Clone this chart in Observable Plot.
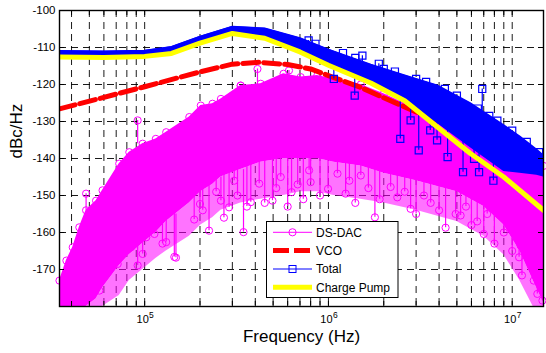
<!DOCTYPE html>
<html><head><meta charset="utf-8">
<script src="https://cdn.jsdelivr.net/npm/d3@7"></script>
<script src="https://cdn.jsdelivr.net/npm/@observablehq/plot@0.6"></script>
<style>body{margin:0;background:#fff}svg{display:block}</style>
</head><body><div id="chart"></div>
<script>
const FONT = "Liberation Sans, Arial, Helvetica, sans-serif";

// ---- axes ----
const xDomain = [3.44e4, 1.48e7];
const yDomain = [-180, -100];
const xMajor = [1e5, 1e6, 1e7];
const xGrid = [4e4,5e4,6e4,7e4,8e4,9e4,1e5,2e5,3e5,4e5,5e5,6e5,7e5,8e5,9e5,1e6,2e6,3e6,4e6,5e6,6e6,7e6,8e6,9e6,1e7];
const yGrid = [-170,-160,-150,-140,-130,-120,-110];
const yLabels = [-170,-160,-150,-140,-130,-120,-110,-100];

// ---- Charge Pump ----
const cpFreq = [3.44e4,6e4,1e5,1.4e5,2e5,3e5,4.5e5,7e5,1e6,1.7e6,2.6e6,3.9e6,5.9e6,9e6,1.48e7];
const cpDb   = [-112.6,-112.7,-112.4,-111.6,-108.8,-106.2,-107.5,-111.2,-114.8,-119.6,-124.4,-131.4,-138.6,-145.0,-154.0];

// ---- VCO ----
const vcoFreq = [3.44e4,1e5,2e5,3e5,4.2e5,6e5,8e5,1e6,1.5e6,2e6,3e6,5e6,1e7,1.48e7];
const vcoDb   = [-126.6,-120.6,-116.6,-114.5,-114.0,-114.6,-115.8,-117.6,-120.8,-123.6,-127.4,-131.8,-137.8,-141.2];

// ---- Total (upper / lower edge of the dense band) ----
const totFreq = [3.44e4,6e4,1e5,1.4e5,2e5,3e5,4.5e5,7e5,1e6,1.7e6,2.6e6,3.9e6,5.9e6,9e6,1.1e7,1.36e7,1.48e7];
const totHi   = [-110.9,-111.0,-110.8,-109.8,-107.0,-104.3,-104.8,-107.4,-110.5,-114.6,-117.5,-120.2,-125.0,-131.0,-134.0,-137.6,-139.2];
const totLo   = [-112.6,-112.7,-112.4,-111.6,-108.8,-106.2,-107.5,-111.2,-114.8,-119.6,-124.4,-130.5,-137.0,-143.5,-144.0,-144.5,-145.0];
const totEdgeFreq = [8.5e5,1.2e6,1.4e6,2e6,2.3e6,3e6,3.4e6,4.3e6,5e6,6.5e6,7.5e6,8.3e6,1e7,1.2e7,1.4e7];
const totEdgeDb   = [-109,-111.5,-112.8,-115.8,-116.5,-118.5,-119.3,-121.2,-123,-126.5,-128.5,-129.8,-132.5,-135.5,-138.3];
// outliers: frequency, value, value where the stem leaves the band
const totSpikeFreq = [7.8e5,1.53e6,1.88e6,6.87e6,1.07e6,1.39e6,2.46e6,2.8e6,3.1e6,3.58e6,3.9e6,4.45e6,5.4e6,6.2e6,6.6e6,7.9e6];
const totSpikeDb   = [-108.1,-112.2,-114.4,-121.2,-118.5,-123,-134.7,-129.7,-137.8,-132.4,-135.1,-139.6,-143.7,-140.1,-143.7,-146];
const totSpikeBase = [-110,-114,-116,-128,-113,-117,-122,-124,-126,-128,-129,-131,-134,-136,-137,-140];

// ---- DS-DAC (upper envelope, solid lower edge, sparse lower edge) ----
const dacFreq = [3.44e4,3.75e4,4.06e4,4.41e4,4.8e4,5.44e4,5.9e4,7.27e4,8.25e4,9.75e4,1.15e5,1.31e5,1.75e5,2.02e5,2.34e5,2.6e5,3.33e5,4.28e5,5.7e5,7.06e5,8.7e5,1.07e6,1.5e6,2e6,3e6,5e6,7e6,9e6,1.1e7,1.3e7,1.48e7];
const dacHi   = [-173,-167.6,-164,-158.6,-154,-151.4,-148.6,-141.4,-138.3,-136,-134.7,-132.9,-128.8,-125.7,-125.2,-123.9,-120.3,-119.8,-117.1,-118,-117.6,-118.5,-120,-122.5,-126.5,-130.5,-133,-135,-137,-140,-142];
const dacDense= [-180,-180,-180,-180,-180,-178,-175,-169,-166,-163,-160,-157,-152,-149,-147,-145,-143,-141,-140,-140,-140,-141,-142,-144,-146,-149,-153,-158,-165,-173,-179];
const dacSparse=[-180,-180,-180,-180,-180,-180,-180,-177,-173,-170,-167,-165,-161,-158,-156,-154,-152,-151,-150,-149,-149,-150,-151,-152,-154,-157,-161,-166,-173,-180,-180];
const dacSpikeFreq = [5.67e4,6.16e4,7.13e4,7.59e4,8.42e4,9.16e4,9.75e4,1.02e5,1.13e5,1.25e5,1.31e5,1.45e5,1.48e5,1.86e5,2.0e5,2.07e5,2.24e5,2.45e5,2.6e5,2.7e5,2.88e5,3.07e5,3.2e5,3.45e5,3.6e5,3.78e5,4.2e5,4.5e5,4.96e5,5.2e5,5.5e5,6e5,6.3e5,6.8e5,7.3e5,7.85e5,8.0e5,9e5,9.95e5,1.12e6,1.24e6,1.3e6,1.4e6,1.5e6,1.65e6,1.79e6,1.9e6,2.18e6,2.37e6,2.6e6,2.8e6,3.0e6,3.31e6,3.6e6,4.0e6,4.34e6,4.92e6,5.24e6,5.6e6,6.0e6,6.45e6,7.0e6,7.31e6,8e6,9e6,1e7,1.09e7,1.11e7,1.13e7,1.21e7,1.31e7,1.37e7,1.46e7,
  4.8e4,9.16e4,3.33e5,4.11e5,6.1e5];
const dacSpikeDb = [-175.7,-170.7,-168.5,-162.2,-164,-168.9,-165.8,-161.3,-160.4,-163,-162.6,-166.6,-166.8,-156.5,-152.3,-154,-159.5,-149,-151.4,-156,-153.2,-146,-150,-159.9,-153,-151.8,-146.8,-152,-151.4,-148,-145,-153,-149.1,-147,-151,-143.2,-146.4,-150,-148.2,-144.1,-149.5,-146,-152,-144.6,-148,-155.9,-151,-147.7,-150.5,-149,-153.6,-155,-150,-152,-154,-158.7,-155,-155.4,-153,-158,-157,-160.4,-155,-163,-160,-165,-166.7,-163.5,-171.6,-162.2,-173,-176.6,-178.4,
  -149.5,-129.7,-120.3,-115.8,-116.2];
const dacSpikeBase = [-172,-166,-164,-158,-160,-155,-158,-157,-155,-156,-155,-153,-155,-150,-148,-148,-147,-145,-145,-144,-144,-142,-142,-143,-141,-141,-140,-140,-140,-139,-139,-139,-139,-139,-139,-139,-139,-139,-140,-140,-140,-140,-141,-141,-141,-142,-142,-143,-144,-144,-145,-145,-146,-146,-147,-148,-148,-149,-150,-150,-151,-152,-152,-155,-156,-160,-163,-160,-165,-160,-170,-172,-175,
  -154,-136,-123,-121,-118];

// ---- tables for the library ----
const zip = (keys, ...cols) => cols[0].map((_, i) => Object.fromEntries(keys.map((k, j) => [k, cols[j][i]])));
const cpRows   = zip(["f","v"], cpFreq, cpDb);
const vcoRows  = zip(["f","v"], vcoFreq, vcoDb);
const totRows  = zip(["f","hi","lo"], totFreq, totHi, totLo);
const totEdge  = zip(["f","v"], totEdgeFreq, totEdgeDb);
const totSpikes= zip(["f","v","base"], totSpikeFreq, totSpikeDb, totSpikeBase);
const dacRows  = zip(["f","hi","dense","sparse"], dacFreq, dacHi, dacDense, dacSparse);
const dacSpikes= zip(["f","v","base"], dacSpikeFreq, dacSpikeDb, dacSpikeBase);

const W = 546, H = 353, mL = 59, mR = 3, mT = 10, mB = 47;
const tickDb = 5 * (yDomain[1] - yDomain[0]) / (H - mT - mB);
const tickF = Math.pow(10, 5 * Math.log10(xDomain[1] / xDomain[0]) / (W - mL - mR));

const MAG = "#ff00ff", RED = "#ff0000", BLUE = "#0000ff", YEL = "#ffff00";

const chart = Plot.plot({
  width: W, height: H,
  marginLeft: mL, marginRight: mR, marginTop: mT, marginBottom: mB,
  x: {type: "log", domain: xDomain, axis: null},
  y: {domain: yDomain, axis: null},
  style: {fontFamily: FONT, background: "#fff", color: "#000"},
  marks: [
    // grid
    Plot.ruleY(yGrid, {y: d => d, stroke: "#000", strokeWidth: 0.9, strokeDasharray: "7,5"}),
    Plot.ruleX(xGrid, {x: d => d, stroke: "#000", strokeWidth: 0.9, strokeDasharray: "7,5"}),
    // DS-DAC
    Plot.areaY(dacRows, {x: "f", y1: "sparse", y2: "dense", fill: MAG, fillOpacity: 0.55, clip: true}),
    Plot.areaY(dacRows, {x: "f", y1: "dense", y2: "hi", fill: MAG, clip: true}),
    Plot.ruleX(dacSpikes, {x: "f", y1: "v", y2: "base", stroke: MAG, strokeWidth: 1.2, clip: true}),
    Plot.dot(dacSpikes, {x: "f", y: "v", r: 3.6, stroke: MAG, strokeWidth: 1}),
    Plot.dot(dacRows, {x: "f", y: "hi", r: 3.6, stroke: MAG, strokeWidth: 1}),
    // VCO
    Plot.line(vcoRows, {x: "f", y: "v", stroke: RED, strokeWidth: 5, strokeDasharray: "16,5", clip: true}),
    // Total
    Plot.areaY(totRows, {x: "f", y1: "lo", y2: "hi", fill: BLUE, clip: true}),
    Plot.line(totRows, {x: "f", y: "hi", stroke: BLUE, strokeWidth: 1.5, clip: true}),
    Plot.ruleX(totSpikes, {x: "f", y1: "v", y2: "base", stroke: BLUE, strokeWidth: 1.2}),
    Plot.dot(totSpikes, {x: "f", y: "v", symbol: "square", r: 4, stroke: BLUE, strokeWidth: 1.2}),
    Plot.dot(totEdge, {x: "f", y: "v", symbol: "square", r: 4, stroke: BLUE, strokeWidth: 1.2}),
    // Charge Pump
    Plot.line(cpRows, {x: "f", y: "v", stroke: YEL, strokeWidth: 5, clip: true}),
    // frame + inward ticks
    Plot.frame({stroke: "#000", strokeWidth: 1.4}),
    Plot.ruleX(xGrid, {x: d => d, y1: () => yDomain[0], y2: () => yDomain[0] + tickDb, stroke: "#000"}),
    Plot.ruleX(xGrid, {x: d => d, y1: () => yDomain[1] - tickDb, y2: () => yDomain[1], stroke: "#000"}),
    Plot.ruleY(yGrid, {y: d => d, x1: () => xDomain[0], x2: () => xDomain[0] * tickF, stroke: "#000"}),
    Plot.ruleY(yGrid, {y: d => d, x1: () => xDomain[1] / tickF, x2: () => xDomain[1], stroke: "#000"}),
    // tick labels
    Plot.text(yLabels, {y: d => d, frameAnchor: "left", dx: -4, textAnchor: "end", text: d => String(d), fontSize: 11.5, fontFamily: FONT}),
    Plot.text(xMajor, {x: d => d, frameAnchor: "bottom", dx: -2, dy: 16.5, text: () => "10", fontSize: 11, fontFamily: FONT}),
    Plot.text(xMajor, {x: d => d, frameAnchor: "bottom", dx: 6.8, dy: 11, text: d => String(Math.round(Math.log10(d))), fontSize: 8.5, fontFamily: FONT}),
    // axis titles
    Plot.text(["dBc/Hz"], {frameAnchor: "left", dx: -43, rotate: -90, text: d => d, fontSize: 17, fontFamily: FONT}),
    Plot.text(["Frequency (Hz)"], {frameAnchor: "bottom", dy: 35, text: d => d, fontSize: 17, fontFamily: FONT})
  ]
});
document.getElementById("chart").appendChild(chart);

// ---- legend ----
const svg = d3.select(chart);
const lg = svg.append("g").attr("font-family", FONT).attr("font-size", 12).attr("text-anchor", "start");
lg.append("rect").attr("x", 266.5).attr("y", 221.5).attr("width", 131.5).attr("height", 76)
  .attr("fill", "#fff").attr("stroke", "#000").attr("stroke-width", 1);
const legendItems = ["DS-DAC", "VCO", "Total", "Charge Pump"];
const rowsY = [232.3, 250.5, 269, 287.3];
const x0 = 273, x1 = 312, xm = 292.5, xt = 316;
// DS-DAC
lg.append("line").attr("x1", x0).attr("x2", x1).attr("y1", rowsY[0]).attr("y2", rowsY[0]).attr("stroke", MAG);
lg.append("circle").attr("cx", xm).attr("cy", rowsY[0]).attr("r", 3.6).attr("fill", "none").attr("stroke", MAG);
// VCO
lg.append("line").attr("x1", x0).attr("x2", x1).attr("y1", rowsY[1]).attr("y2", rowsY[1]).attr("stroke", RED)
  .attr("stroke-width", 5).attr("stroke-dasharray", "16,5");
// Total
lg.append("line").attr("x1", x0).attr("x2", x1).attr("y1", rowsY[2]).attr("y2", rowsY[2]).attr("stroke", BLUE);
lg.append("rect").attr("x", xm - 3.5).attr("y", rowsY[2] - 3.5).attr("width", 7).attr("height", 7).attr("fill", "none").attr("stroke", BLUE);
// Charge Pump
lg.append("line").attr("x1", x0).attr("x2", x1).attr("y1", rowsY[3]).attr("y2", rowsY[3]).attr("stroke", YEL).attr("stroke-width", 5);
legendItems.forEach((t, i) => {
  lg.append("text").attr("x", xt).attr("y", rowsY[i]).attr("dy", "0.35em").attr("text-anchor", "start").attr("fill", "#000").text(t);
});
</script></body></html>
